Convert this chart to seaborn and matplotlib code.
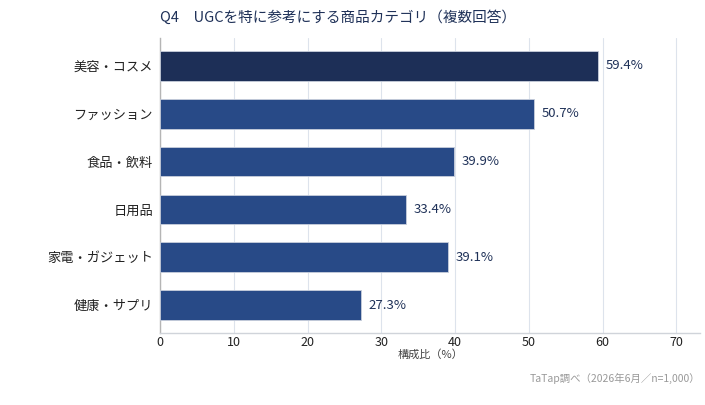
import matplotlib
matplotlib.use("Agg")
import matplotlib.pyplot as plt
import seaborn as sns
import pandas as pd

categories = ["美容・コスメ", "ファッション", "食品・飲料", "日用品", "家電・ガジェット", "健康・サプリ"]
values = [59.4, 50.7, 39.9, 33.4, 39.1, 27.3]
x_ticks = [0, 10, 20, 30, 40, 50, 60, 70]
title = "Q4　UGCを特に参考にする商品カテゴリ（複数回答）"
x_label = "構成比（%）"
source = "TaTap調べ（2026年6月／n=1,000）"

sns.set_theme(style="white")
plt.rcParams['font.family'] = ['Noto Sans CJK JP', 'DejaVu Sans']

df = pd.DataFrame({"cat": categories, "val": values})
colors = ["#1d2f57"] + ["#284a87"] * (len(categories) - 1)

fig = plt.figure(figsize=(7.05, 4.05), dpi=100)
ax = fig.add_axes([160/705, 1 - 333/405, (700-160)/705, (333-38)/405])

sns.barplot(data=df, x="val", y="cat", hue="cat", palette=colors, legend=False,
            orient="h", width=0.62, ax=ax, edgecolor="#c8cfdc", linewidth=0.6,
            saturation=1, zorder=3)

ax.set_xlim(0, 73.2)
ax.set_ylim(5.58, -0.58)
ax.set_xticks(x_ticks)
ax.set_xticklabels([str(t) for t in x_ticks], fontsize=9, color="#222222")
ax.tick_params(axis="x", length=0, pad=2)
ax.tick_params(axis="y", length=0, labelsize=9.5, labelcolor="#222222", pad=5)
ax.set_ylabel("")
ax.set_xlabel(x_label, fontsize=8, color="#444444", labelpad=0)
ax.grid(axis="x", color="#dde3ec", linewidth=0.8, zorder=0)
ax.set_axisbelow(True)
for s in ["top", "right"]:
    ax.spines[s].set_visible(False)
ax.spines["left"].set_color("#b5b5b5")
ax.spines["bottom"].set_color("#d0d4da")
ax.spines["left"].set_linewidth(1.0)
ax.spines["bottom"].set_linewidth(1.0)

for i, v in enumerate(values):
    ax.text(v + 1.0, i, f"{v}%", va="center", ha="left", fontsize=9.5, color="#1f3158")

fig.text(160/705, 1 - 18/405, title, fontsize=10.5, color="#1f3158", va="center", ha="left")
fig.text(700/705, 1 - 378/405, source, fontsize=7.5, color="#999999", va="center", ha="right")

fig.savefig("out.png", dpi=100)
